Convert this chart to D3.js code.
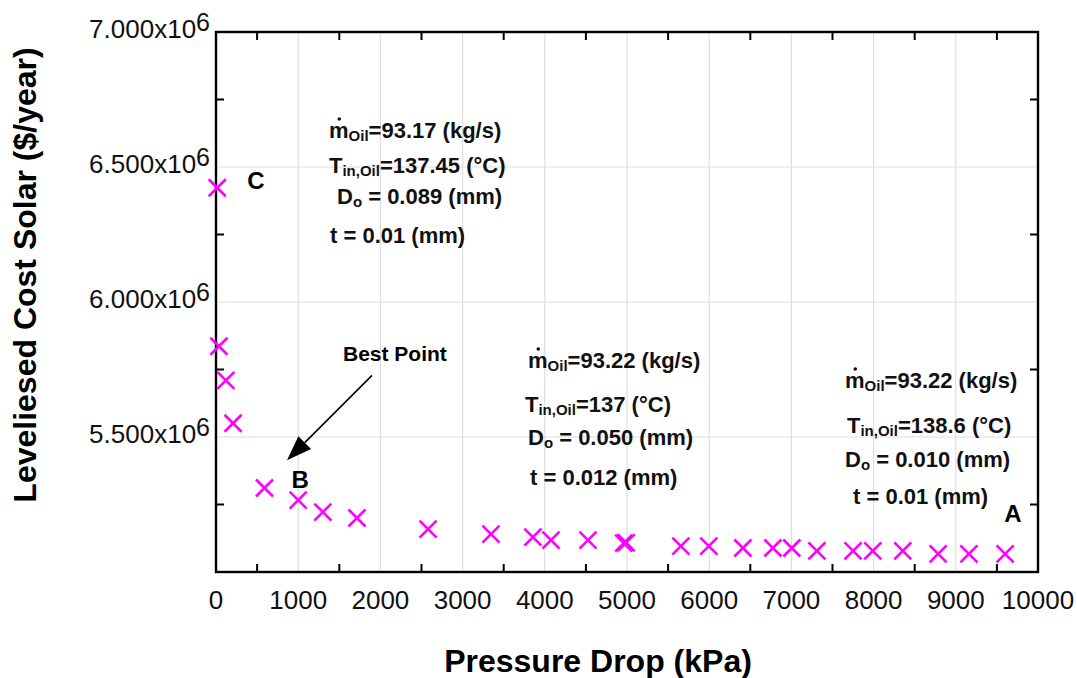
<!DOCTYPE html>
<html>
<head>
<meta charset="utf-8">
<script src="https://cdn.jsdelivr.net/npm/d3@7/dist/d3.min.js"></script>
<style>
  html, body { margin: 0; padding: 0; background: #ffffff; }
  svg { display: block; font-family: "Liberation Sans", Arial, Helvetica, sans-serif; }
</style>
</head>
<body>
<svg id="chart" width="1077" height="678"></svg>
<script>
// Pressure drop (kPa) of each design point and its levelised solar cost ($/year)
const pressureDrop = [15, 35, 120, 207, 590, 1000, 1300, 1715, 2580, 3345, 3855, 4075, 4525,
  4960, 4990, 5655, 5995, 6410, 6775, 7005, 7310, 7750, 7990, 8355, 8785, 9160, 9600];
const costSolar = [6.423e6, 5.836e6, 5.710e6, 5.551e6, 5.311e6, 5.266e6, 5.222e6, 5.200e6,
  5.159e6, 5.140e6, 5.129e6, 5.118e6, 5.118e6, 5.107e6, 5.109e6, 5.096e6, 5.096e6, 5.089e6,
  5.089e6, 5.089e6, 5.078e6, 5.078e6, 5.078e6, 5.078e6, 5.067e6, 5.067e6, 5.067e6];

// Axis ticks
const xTickValues = [0, 1000, 2000, 3000, 4000, 5000, 6000, 7000, 8000, 9000, 10000];
const xTickLabels = ["0", "1000", "2000", "3000", "4000", "5000", "6000", "7000", "8000", "9000", "10000"];
const yTickValues = [5.5e6, 6.0e6, 6.5e6, 7.0e6];
const yTickMantissa = ["5.500", "6.000", "6.500", "7.000"];
const yTickExponent = "6";

// Point labels (A, B, C) and the "Best Point" arrow, in data units
const pointLetters = ["C", "B", "A"];
const pointLetterX = [380, 920, 9590];
const pointLetterY = [6.417e6, 5.311e6, 5.185e6];
const arrowFrom = [1898, 5.728e6];
const arrowTo = [864, 5.414e6];

(function draw() {
  const svg = d3.select("#chart");
  const mLeft = 216, mRight = 1038, mTop = 32, mBottom = 572;

  const x = d3.scaleLinear().domain([0, 10000]).range([mLeft, mRight]);
  const y = d3.scaleLinear().domain([5.0e6, 7.0e6]).range([mBottom, mTop]);

  // Grid lines at the labelled values
  svg.append("g").selectAll("line").data(xTickValues.slice(1, -1)).join("line")
    .attr("x1", d => x(d)).attr("x2", d => x(d)).attr("y1", mTop).attr("y2", mBottom)
    .attr("stroke", "#dedede").attr("stroke-width", 1.2);
  svg.append("g").selectAll("line").data(yTickValues.slice(0, -1)).join("line")
    .attr("x1", mLeft).attr("x2", mRight).attr("y1", d => y(d)).attr("y2", d => y(d))
    .attr("stroke", "#dedede").attr("stroke-width", 1.2);

  // Inward tick marks half-way between labelled values, on all four sides
  const xMinor = d3.range(500, 10000, 1000);
  const yMinor = d3.range(5.25e6, 7.0e6, 0.5e6);
  const tickLen = 8;
  const ticks = svg.append("g").attr("stroke", "#000").attr("stroke-width", 2);
  ticks.selectAll(".tb").data(xMinor).join("line").attr("class", "tb")
    .attr("x1", d => x(d)).attr("x2", d => x(d)).attr("y1", mBottom).attr("y2", mBottom - tickLen);
  ticks.selectAll(".tt").data(xMinor).join("line").attr("class", "tt")
    .attr("x1", d => x(d)).attr("x2", d => x(d)).attr("y1", mTop).attr("y2", mTop + tickLen);
  ticks.selectAll(".tl").data(yMinor).join("line").attr("class", "tl")
    .attr("x1", mLeft).attr("x2", mLeft + tickLen).attr("y1", d => y(d)).attr("y2", d => y(d));
  ticks.selectAll(".tr").data(yMinor).join("line").attr("class", "tr")
    .attr("x1", mRight).attr("x2", mRight - tickLen).attr("y1", d => y(d)).attr("y2", d => y(d));

  // Plot frame
  svg.append("rect").attr("x", mLeft).attr("y", mTop)
    .attr("width", mRight - mLeft).attr("height", mBottom - mTop)
    .attr("fill", "none").attr("stroke", "#000").attr("stroke-width", 2.4);

  // X tick labels
  svg.append("g").selectAll("text").data(xTickValues).join("text")
    .attr("x", d => x(d)).attr("y", mBottom + 37)
    .attr("text-anchor", "middle").attr("font-size", 26).attr("fill", "#111")
    .text((d, i) => xTickLabels[i]);

  // Y tick labels with a raised exponent
  const yl = svg.append("g").selectAll("text").data(yTickValues).join("text")
    .attr("x", 210).attr("y", d => y(d) + 6)
    .attr("text-anchor", "end").attr("font-size", 26).attr("fill", "#111");
  yl.append("tspan").text((d, i) => yTickMantissa[i] + "x10");
  yl.append("tspan").attr("dy", -7).attr("font-size", 25).text(yTickExponent);

  // Axis titles
  svg.append("text").attr("x", 598).attr("y", 672).attr("text-anchor", "middle")
    .attr("font-size", 32).attr("font-weight", "bold").text("Pressure Drop (kPa)");
  svg.append("text").attr("transform", "translate(36,275) rotate(-90)")
    .attr("text-anchor", "middle").attr("font-size", 32).attr("font-weight", "bold")
    .text("Leveliesed Cost Solar ($/year)");

  // Data markers: crosses
  const half = 8.5;
  svg.append("g").selectAll("path").data(pressureDrop).join("path")
    .attr("d", (d, i) => {
      const cx = x(d), cy = y(costSolar[i]);
      return `M${cx - half},${cy - half}L${cx + half},${cy + half}M${cx - half},${cy + half}L${cx + half},${cy - half}`;
    })
    .attr("stroke", "#ff00ff").attr("stroke-width", 2.6).attr("fill", "none");

  // Point letters
  svg.append("g").selectAll("text").data(pointLetters).join("text")
    .attr("x", (d, i) => x(pointLetterX[i])).attr("y", (d, i) => y(pointLetterY[i]))
    .attr("font-size", 24).attr("font-weight", "bold").text(d => d);

  // "Best Point" arrow
  const ax0 = x(arrowFrom[0]), ay0 = y(arrowFrom[1]);
  const ax1 = x(arrowTo[0]), ay1 = y(arrowTo[1]);
  const ang = Math.atan2(ay1 - ay0, ax1 - ax0);
  const headLen = 25, headHalf = 9;
  const bx = ax1 - headLen * Math.cos(ang), by = ay1 - headLen * Math.sin(ang);
  svg.append("line").attr("x1", ax0).attr("y1", ay0).attr("x2", bx).attr("y2", by)
    .attr("stroke", "#000").attr("stroke-width", 1.6);
  svg.append("path")
    .attr("d", `M${ax1},${ay1}L${bx + headHalf * Math.sin(ang)},${by - headHalf * Math.cos(ang)}` +
               `L${bx - headHalf * Math.sin(ang)},${by + headHalf * Math.cos(ang)}Z`)
    .attr("fill", "#000");
  svg.append("text").attr("x", 343).attr("y", 361).attr("font-size", 21)
    .attr("font-weight", "bold").text("Best Point");

  // Operating-condition notes: each line is a list of [text, isSubscript] pieces
  const notes = [
    { x: 329, lines: [
      { y: 138, dot: true, parts: [["m", 0], ["Oil", 1], ["=93.17 (kg/s)", 0]] },
      { y: 173, parts: [["T", 0], ["in,Oil", 1], ["=137.45 (°C)", 0]] },
      { y: 204, dx: 8, parts: [["D", 0], ["o", 1], [" = 0.089 (mm)", 0]] },
      { y: 243, dx: 1, parts: [["t = 0.01 (mm)", 0]] } ] },
    { x: 528, lines: [
      { y: 368, dot: true, parts: [["m", 0], ["Oil", 1], ["=93.22 (kg/s)", 0]] },
      { y: 412, dx: -3, parts: [["T", 0], ["in,Oil", 1], ["=137 (°C)", 0]] },
      { y: 445, parts: [["D", 0], ["o", 1], [" = 0.050 (mm)", 0]] },
      { y: 485, dx: 2, parts: [["t = 0.012 (mm)", 0]] } ] },
    { x: 845, lines: [
      { y: 388, dot: true, parts: [["m", 0], ["Oil", 1], ["=93.22 (kg/s)", 0]] },
      { y: 433, dx: 2, parts: [["T", 0], ["in,Oil", 1], ["=138.6 (°C)", 0]] },
      { y: 467, parts: [["D", 0], ["o", 1], [" = 0.010 (mm)", 0]] },
      { y: 504, dx: 8, parts: [["t = 0.01 (mm)", 0]] } ] }
  ];

  notes.forEach(block => {
    block.lines.forEach(line => {
      const lx = block.x + (line.dx || 0);
      const t = svg.append("text").attr("x", lx).attr("y", line.y)
        .attr("font-size", 22).attr("font-weight", "bold").attr("fill", "#111");
      let shifted = false;
      line.parts.forEach(([s, sub]) => {
        const ts = t.append("tspan").text(s);
        if (sub) { ts.attr("font-size", 15).attr("dy", 3); shifted = true; }
        else if (shifted) { ts.attr("dy", -3); shifted = false; }
      });
      if (line.dot) {
        const w = t.node().getSubStringLength(0, 1);
        svg.append("circle").attr("cx", lx + w / 2 + 0.5)
          .attr("cy", line.y - 19).attr("r", 1.8).attr("fill", "#111");
      }
    });
  });
})();
</script>
</body>
</html>
